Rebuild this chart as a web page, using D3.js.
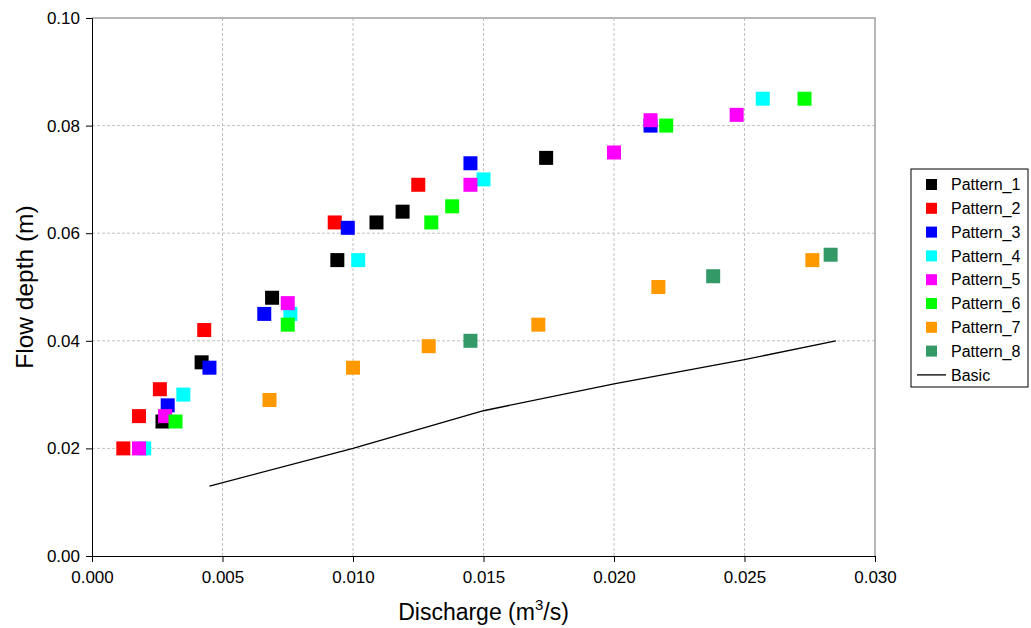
<!DOCTYPE html>
<html>
<head>
<meta charset="utf-8">
<script src="https://cdn.jsdelivr.net/npm/d3@7"></script>
<style>
  html, body { margin: 0; padding: 0; background: #fff; }
  svg { display: block; font-family: "Liberation Sans", Arial, sans-serif; }
</style>
</head>
<body>
<svg id="chart" width="1031" height="628"></svg>
<script>
// Discharge (m^3/s) and flow depth (m) measured for each pattern
const pattern1 = [[0.0027,0.025],[0.0042,0.036],[0.0069,0.048],[0.0094,0.055],[0.0109,0.062],[0.0119,0.064],[0.0174,0.074]];
const pattern2 = [[0.0012,0.020],[0.0018,0.026],[0.0026,0.031],[0.0043,0.042],[0.0093,0.062],[0.0125,0.069]];
const pattern3 = [[0.0029,0.028],[0.0045,0.035],[0.0066,0.045],[0.0098,0.061],[0.0145,0.073],[0.0214,0.080]];
const pattern4 = [[0.0020,0.020],[0.0035,0.030],[0.0076,0.045],[0.0102,0.055],[0.0150,0.070],[0.0257,0.085]];
const pattern5 = [[0.0018,0.020],[0.0028,0.026],[0.0075,0.047],[0.0145,0.069],[0.0200,0.075],[0.0214,0.081],[0.0247,0.082]];
const pattern6 = [[0.0032,0.025],[0.0075,0.043],[0.0130,0.062],[0.0138,0.065],[0.0220,0.080],[0.0273,0.085]];
const pattern7 = [[0.0068,0.029],[0.0100,0.035],[0.0129,0.039],[0.0171,0.043],[0.0217,0.050],[0.0276,0.055]];
const pattern8 = [[0.0145,0.040],[0.0238,0.052],[0.0283,0.056]];
const basic    = [[0.0045,0.013],[0.0100,0.020],[0.0150,0.027],[0.0200,0.032],[0.0250,0.0365],[0.0285,0.040]];

const seriesNames  = ["Pattern_1","Pattern_2","Pattern_3","Pattern_4","Pattern_5","Pattern_6","Pattern_7","Pattern_8"];
const seriesData   = [pattern1, pattern2, pattern3, pattern4, pattern5, pattern6, pattern7, pattern8];
const seriesColors = ["#000000","#ff0000","#0000ff","#00ffff","#ff00ff","#00ff00","#ff9900","#339966"];

const xTicks = [0, 0.005, 0.010, 0.015, 0.020, 0.025, 0.030];
const yTicks = [0, 0.02, 0.04, 0.06, 0.08, 0.10];

const svg = d3.select("#chart");
const plot = { left: 92, right: 875, top: 18, bottom: 556 };

const x = d3.scaleLinear().domain([0, 0.03]).range([plot.left, plot.right]);
const y = d3.scaleLinear().domain([0, 0.1]).range([plot.bottom, plot.top]);

// dashed grid
const grid = svg.append("g");
grid.selectAll("line.gx").data(xTicks.slice(1, -1)).enter().append("line")
  .attr("x1", d => x(d)).attr("x2", d => x(d))
  .attr("y1", plot.top).attr("y2", plot.bottom)
  .attr("stroke", "#c0c0c0").attr("stroke-width", 1).attr("stroke-dasharray", "3,2");
grid.selectAll("line.gy").data(yTicks.slice(1, -1)).enter().append("line")
  .attr("x1", plot.left).attr("x2", plot.right)
  .attr("y1", d => y(d)).attr("y2", d => y(d))
  .attr("stroke", "#c0c0c0").attr("stroke-width", 1).attr("stroke-dasharray", "3,2");

// plot frame on top and right
svg.append("path")
  .attr("d", `M${plot.left},${plot.top}H${plot.right}V${plot.bottom}`)
  .attr("fill", "none").attr("stroke", "#a0a0a0").attr("stroke-width", 1.5);

// axes
const xAxis = d3.axisBottom(x).tickValues(xTicks).tickFormat(d3.format(".3f")).tickSizeOuter(0).tickSize(6);
const yAxis = d3.axisLeft(y).tickValues(yTicks).tickFormat(d3.format(".2f")).tickSizeOuter(0).tickSize(6);

const gx = svg.append("g").attr("transform", `translate(0,${plot.bottom})`).call(xAxis);
gx.selectAll("text").attr("font-size", 17).attr("fill", "#000")
  .attr("y", 21).attr("dy", "0.35em")
  .attr("font-family", "Liberation Sans, Arial, sans-serif");
const gy = svg.append("g").attr("transform", `translate(${plot.left},0)`).call(yAxis);
gy.selectAll("text").attr("font-size", 17).attr("fill", "#000").attr("x", -12)
  .attr("font-family", "Liberation Sans, Arial, sans-serif");
svg.selectAll(".domain, .tick line").attr("stroke", "#000");

// axis titles
svg.append("text")
  .attr("transform", `translate(33,${(plot.top + plot.bottom) / 2}) rotate(-90)`)
  .attr("text-anchor", "middle").attr("font-size", 24.5).attr("fill", "#000")
  .text("Flow depth (m)");

const xt = svg.append("text")
  .attr("x", (plot.left + plot.right) / 2).attr("y", 620)
  .attr("text-anchor", "middle").attr("font-size", 23).attr("fill", "#000");
xt.append("tspan").text("Discharge (m");
xt.append("tspan").attr("font-size", 15).attr("dy", -10).text("3");
xt.append("tspan").attr("dy", 10).text("/s)");

// basic reference line
const line = d3.line().x(d => x(d[0])).y(d => y(d[1]));
svg.append("path").datum(basic).attr("d", line)
  .attr("fill", "none").attr("stroke", "#000").attr("stroke-width", 1.3);

// square markers for every pattern
const ms = 14;
seriesData.forEach((data, i) => {
  svg.append("g").selectAll("rect").data(data).enter().append("rect")
    .attr("x", d => x(d[0]) - ms / 2).attr("y", d => y(d[1]) - ms / 2)
    .attr("width", ms).attr("height", ms)
    .attr("fill", seriesColors[i]);
});

// legend
const lg = svg.append("g");
const lgTop = 169, lgLeft = 911, lgW = 117, rowH = 23.8, firstRow = 184.5;
lg.append("rect").attr("x", lgLeft).attr("y", lgTop).attr("width", lgW).attr("height", 218)
  .attr("fill", "#fff").attr("stroke", "#000").attr("stroke-width", 1);
seriesNames.forEach((name, i) => {
  const cy = firstRow + i * rowH;
  lg.append("rect").attr("x", 926).attr("y", cy - 5.5).attr("width", 11).attr("height", 11)
    .attr("fill", seriesColors[i]);
  lg.append("text").attr("x", 951).attr("y", cy).attr("dy", "0.36em")
    .attr("font-size", 16).attr("fill", "#000").text(name);
});
const by = firstRow + 8 * rowH;
lg.append("line").attr("x1", 917).attr("x2", 946).attr("y1", by).attr("y2", by)
  .attr("stroke", "#000").attr("stroke-width", 1.3);
lg.append("text").attr("x", 951).attr("y", by).attr("dy", "0.36em")
  .attr("font-size", 16).attr("fill", "#000").text("Basic");
</script>
</body>
</html>
